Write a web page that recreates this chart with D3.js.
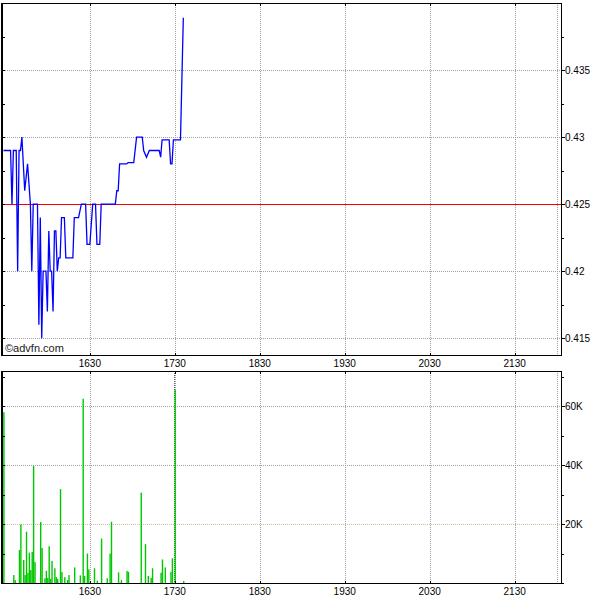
<!DOCTYPE html>
<html>
<head>
<meta charset="utf-8">
<script src="https://cdn.jsdelivr.net/npm/d3@7/dist/d3.min.js"></script>
<style>
  html, body { margin: 0; padding: 0; background: #fff; }
  svg { display: block; }
  text { font-family: "Liberation Sans", Arial, sans-serif; fill: #000; }
</style>
</head>
<body>
<div id="chart"></div>
<script>
// ---- data (minutes after 15:30) ----
const priceTimes = [-1, 4, 5, 6, 8, 9, 10, 11, 12, 14, 16, 18, 19, 20, 23, 24, 25, 26, 27, 29, 30, 31, 32, 33, 34, 35, 36, 37, 38, 39, 40, 42, 43, 48, 49, 52, 54, 57, 58, 60, 62, 64, 65, 67, 68, 78, 79, 80, 81, 86, 87, 91, 93, 97, 98, 100, 102, 109, 110, 111, 116, 117, 118, 119, 124, 126];
const priceValues = [0.429, 0.429, 0.425, 0.429, 0.429, 0.420, 0.429, 0.429, 0.430, 0.426, 0.428, 0.425, 0.420, 0.425, 0.425, 0.416, 0.424, 0.415, 0.420, 0.420, 0.417, 0.423, 0.420, 0.420, 0.417, 0.423, 0.423, 0.420, 0.421, 0.421, 0.424, 0.424, 0.421, 0.421, 0.424, 0.424, 0.425, 0.425, 0.422, 0.422, 0.425, 0.425, 0.422, 0.422, 0.425, 0.425, 0.426, 0.426, 0.428, 0.428, 0.4281, 0.4281, 0.430, 0.430, 0.429, 0.4285, 0.429, 0.429, 0.4285, 0.4298, 0.4298, 0.428, 0.428, 0.4298, 0.4298, 0.4389];
const prevClose = 0.425;

const volumeTimes = [-1, 6, 7, 10, 11, 13, 14, 15, 16, 17, 18, 19, 20, 21, 25, 26, 28, 29, 30, 31, 32, 33, 35, 36, 37, 39, 40, 42, 44, 45, 49, 53, 55, 56, 58, 59, 63, 65, 68, 72, 74, 75, 80, 82, 86, 87, 96, 99, 101, 103, 104, 110, 111, 113, 117, 118, 120, 126];
const volumeValues = [58000, 2700, 1000, 11200, 19900, 7800, 2700, 17400, 3400, 10300, 4400, 10500, 39700, 7100, 20700, 11900, 1600, 4100, 1700, 12500, 1400, 7500, 5000, 2000, 1400, 31900, 3700, 2000, 1000, 2700, 5300, 2600, 62600, 2400, 10000, 4600, 5000, 800, 15100, 1600, 10000, 20800, 3600, 1000, 4100, 3800, 30700, 13200, 2400, 1700, 5000, 3500, 8000, 5300, 3800, 8400, 65600, 700];
const lastBarTime = 120;

const timeTickValues = [60, 120, 180, 240, 300, 360, 390];
const timeTickLabels = ["1630", "1730", "1830", "1930", "2030", "2130", ""];
const priceTickValues = [0.415, 0.42, 0.425, 0.43, 0.435];
const priceTickLabels = ["0.415", "0.42", "0.425", "0.43", "0.435"];
const volumeTickValues = [20000, 40000, 60000];
const volumeTickLabels = ["20K", "40K", "60K"];

// ---- layout ----
const W = 600, H = 600;
const L = 1, R = 561;
const P = { top: 3, bottom: 355 };
const V = { top: 371, bottom: 583 };

const svg = d3.select("#chart").append("svg").attr("width", W).attr("height", H);
svg.append("rect").attr("width", W).attr("height", H).attr("fill", "#fff");

const x = d3.scaleLinear().domain([0, 390]).range([4.9, 4.9 + 390 * 1.416]);
const yP = d3.scaleLinear().domain([0.41375, 0.44]).range([P.bottom, P.top]);
const yV = d3.scaleLinear().domain([0, 72000]).range([V.bottom, V.top]);

const crisp = v => Math.round(v) + 0.5;
const gridColor = "#a0a0a0";

const defs = svg.append("defs");
defs.append("clipPath").attr("id", "clipP").append("rect")
  .attr("x", L).attr("y", P.top).attr("width", R - L).attr("height", P.bottom - P.top);
defs.append("clipPath").attr("id", "clipV").append("rect")
  .attr("x", L).attr("y", V.top).attr("width", R - L).attr("height", V.bottom - V.top);

function panelGrid(top, bottom, yScale, yTicks, hColors) {
  const g = svg.append("g").attr("shape-rendering", "crispEdges");
  g.selectAll("line.v").data(timeTickValues).join("line")
    .attr("x1", d => crisp(x(d))).attr("x2", d => crisp(x(d)))
    .attr("y1", top).attr("y2", bottom)
    .attr("stroke", gridColor).attr("stroke-dasharray", "1,1");
  g.selectAll("line.h").data(yTicks).join("line")
    .attr("x1", L).attr("x2", R)
    .attr("y1", d => crisp(yScale(d))).attr("y2", d => crisp(yScale(d)))
    .attr("stroke", (d, i) => hColors ? hColors[i] : gridColor)
    .attr("stroke-dasharray", "1,1");
}

// ---- price panel ----
panelGrid(P.top, P.bottom, yP, priceTickValues.filter(v => v !== prevClose));

svg.append("line").attr("shape-rendering", "crispEdges")
  .attr("x1", L).attr("x2", R)
  .attr("y1", crisp(yP(prevClose))).attr("y2", crisp(yP(prevClose)))
  .attr("stroke", "#ff0000").attr("stroke-width", 1);

const priceData = priceTimes.map((t, i) => ({ t, v: priceValues[i] }));
svg.append("path").datum(priceData)
  .attr("clip-path", "url(#clipP)")
  .attr("fill", "none").attr("stroke", "#0000ff").attr("stroke-width", 1.3)
  .attr("stroke-linejoin", "miter")
  .attr("d", d3.line().x(d => x(d.t)).y(d => yP(d.v)));

svg.append("text").attr("x", 5).attr("y", 352)
  .attr("font-size", 11).style("fill", "#222").text("©advfn.com");

// ---- volume panel ----
panelGrid(V.top, V.bottom, yV, volumeTickValues, ["#c4c4a4", gridColor, gridColor]);

// dark marker line at the large 17:30 bar
svg.append("line").attr("shape-rendering", "crispEdges")
  .attr("x1", crisp(x(lastBarTime)) - 1).attr("x2", crisp(x(lastBarTime)) - 1)
  .attr("y1", V.top).attr("y2", V.bottom)
  .attr("stroke", "#606060").attr("stroke-dasharray", "1,1");

const volData = volumeTimes.map((t, i) => ({ t, v: volumeValues[i] }));
svg.append("g").attr("clip-path", "url(#clipV)")
  .selectAll("rect").data(volData).join("rect")
  .attr("x", d => x(d.t) - 0.3).attr("width", 1.4)
  .attr("y", d => yV(d.v)).attr("height", d => yV(0) - yV(d.v))
  .attr("fill", "#00c800");

// ---- frames, ticks, labels ----
function frame(top, bottom, yScale, yTicks, yLabels, minorStep) {
  const g = svg.append("g").attr("shape-rendering", "crispEdges");
  g.append("rect").attr("x", L + 0.5).attr("y", top + 0.5)
    .attr("width", R - L).attr("height", bottom - top)
    .attr("fill", "none").attr("stroke", "#000");
  g.append("line").attr("x1", L + 1.5).attr("x2", L + 1.5).attr("y1", top).attr("y2", bottom)
    .attr("stroke", "#000");
  const [d0, d1] = yScale.domain();
  const minors = d3.range(Math.ceil(d0 / minorStep) * minorStep, d1, minorStep);
  g.selectAll("line.lt").data(minors).join("line")
    .attr("x1", L + 1).attr("x2", L + 4)
    .attr("y1", d => crisp(yScale(d))).attr("y2", d => crisp(yScale(d))).attr("stroke", "#000");
  g.selectAll("line.rt").data(minors).join("line")
    .attr("x1", R + 1).attr("x2", R + 3)
    .attr("y1", d => crisp(yScale(d))).attr("y2", d => crisp(yScale(d))).attr("stroke", "#000");
  g.selectAll("line.rm").data(yTicks).join("line")
    .attr("x1", R + 1).attr("x2", R + 4)
    .attr("y1", d => crisp(yScale(d))).attr("y2", d => crisp(yScale(d))).attr("stroke", "#000");
  g.selectAll("line.tt").data(timeTickValues.slice(0, 6)).join("line")
    .attr("x1", d => crisp(x(d))).attr("x2", d => crisp(x(d)))
    .attr("y1", top + 1).attr("y2", top + 3).attr("stroke", "#000");
  g.selectAll("line.bt").data(timeTickValues.slice(0, 6)).join("line")
    .attr("x1", d => crisp(x(d))).attr("x2", d => crisp(x(d)))
    .attr("y1", bottom - 2).attr("y2", bottom).attr("stroke", "#000");
  svg.append("g").selectAll("text").data(yTicks).join("text")
    .attr("x", R + 4).attr("y", d => yScale(d)).attr("dy", "0.35em")
    .attr("font-size", 10).text((d, i) => yLabels[i]);
  svg.append("g").selectAll("text").data(timeTickValues).join("text")
    .attr("x", d => x(d)).attr("y", bottom + 12).attr("text-anchor", "middle")
    .attr("font-size", 10).text((d, i) => timeTickLabels[i]);
}
frame(P.top, P.bottom, yP, priceTickValues, priceTickLabels, 0.0025);
frame(V.top, V.bottom, yV, volumeTickValues, volumeTickLabels, 10000);
</script>
</body>
</html>
